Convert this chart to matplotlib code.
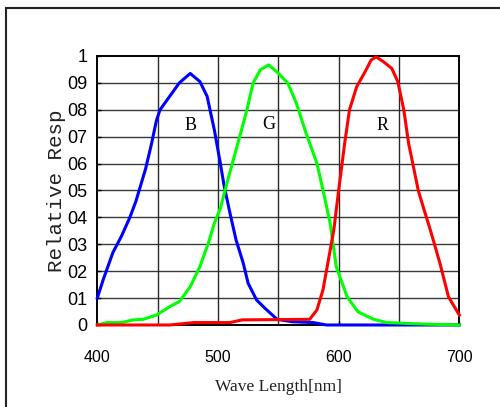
import matplotlib.pyplot as plt
from matplotlib.patches import Rectangle

# wavelength [nm] / relative response
b_wl = [400, 405, 409, 413, 420, 427, 432, 436, 440, 445, 449, 452, 460, 468, 477,
        485, 491, 497, 502, 505, 510, 515, 521, 525, 532, 539, 549, 562, 579, 590, 600, 650, 700]
b_resp = [0.10, 0.17, 0.22, 0.27, 0.33, 0.40, 0.46, 0.52, 0.58, 0.675, 0.76, 0.80, 0.85, 0.90, 0.935,
          0.905, 0.85, 0.725, 0.60, 0.52, 0.415, 0.316, 0.229, 0.155, 0.093, 0.062, 0.021, 0.012, 0.009, 0.0, 0.0, 0.0, 0.0]

g_wl = [400, 408, 420, 430, 438, 449, 460, 468, 477, 485, 492, 497, 502, 507, 518, 524, 529, 535,
        542, 550, 558, 565, 573, 582, 587, 593, 598, 607, 616, 629, 640, 656, 673, 700]
g_resp = [0.0, 0.009, 0.009, 0.019, 0.021, 0.037, 0.068, 0.087, 0.142, 0.217, 0.304, 0.378, 0.434, 0.52, 0.70, 0.80, 0.898, 0.948,
          0.967, 0.936, 0.898, 0.824, 0.713, 0.601, 0.502, 0.378, 0.217, 0.105, 0.049, 0.021, 0.009, 0.006, 0.003, 0.0]

r_wl = [400, 460, 480, 510, 520, 576, 582, 587, 591, 596, 600, 605, 609, 615, 622, 627, 631, 637,
        644, 649, 654, 658, 662, 666, 670, 676, 684, 691, 700]
r_resp = [0.0, 0.0, 0.009, 0.009, 0.019, 0.021, 0.056, 0.13, 0.229, 0.353, 0.50, 0.675, 0.80, 0.886, 0.942, 0.985, 0.997, 0.979,
          0.954, 0.905, 0.80, 0.675, 0.588, 0.50, 0.44, 0.353, 0.229, 0.105, 0.037]

y_ticks = [0, 0.1, 0.2, 0.3, 0.4, 0.5, 0.6, 0.7, 0.8, 0.9, 1.0]
y_labels = ["0", "01", "02", "03", "04", "05", "06", "07", "08", "09", "1"]
x_ticks = [400, 500, 600, 700]
x_grid = [450, 500, 550, 600, 650]

fig = plt.figure(figsize=(5, 4.07), dpi=100)
ax = fig.add_axes([0.1946, 0.2015, 0.724, 0.661])

# outer frame (runs off the right and bottom edge)
fig.patches.append(Rectangle((0.012, -0.05), 1.1, 1.03, transform=fig.transFigure,
                             fill=False, edgecolor='#222222', linewidth=1.5))

for v in y_ticks[1:-1]:
    ax.axhline(v, color='#3a3a3a', linewidth=1, zorder=1)
for v in x_grid:
    ax.axvline(v, color='#2a2a2a', linewidth=1, zorder=1)

ax.plot(b_wl, b_resp, color='#0000ff', linewidth=2.2, zorder=3, clip_on=False)
ax.plot(g_wl, g_resp, color='#00ff00', linewidth=2.2, zorder=3, clip_on=False)
ax.plot(r_wl, r_resp, color='#ff0000', linewidth=2.2, zorder=4, clip_on=False)

ax.text(477, 0.74, "B", family='Liberation Serif', fontsize=13, ha='center', va='center')
ax.text(542.5, 0.747, "G", family='Liberation Serif', fontsize=13, ha='center', va='center')
ax.text(636.5, 0.743, "R", family='Liberation Serif', fontsize=13, ha='center', va='center')

ax.set_xlim(400, 700)
ax.set_ylim(0, 1)
ax.set_yticks(y_ticks)
ax.set_yticklabels(y_labels, family='Liberation Sans', fontsize=13)
ax.set_xticks(x_ticks)
ax.set_xticklabels([str(x) for x in x_ticks], family='Liberation Sans', fontsize=11.5)
ax.tick_params(direction='in', length=3, width=1, color='black')
ax.tick_params(axis='y', pad=7)
ax.tick_params(axis='x', pad=18)
for s in ax.spines.values():
    s.set_linewidth(1.4)
    s.set_color('black')

ax.set_ylabel("Relative Resp", family='Liberation Mono', fontsize=15, labelpad=1, color='#222222')
ax.set_xlabel("Wave Length[nm]", family='Liberation Serif', fontsize=12.5, labelpad=10, color='#222222')

fig.savefig("out.png", dpi=100)
